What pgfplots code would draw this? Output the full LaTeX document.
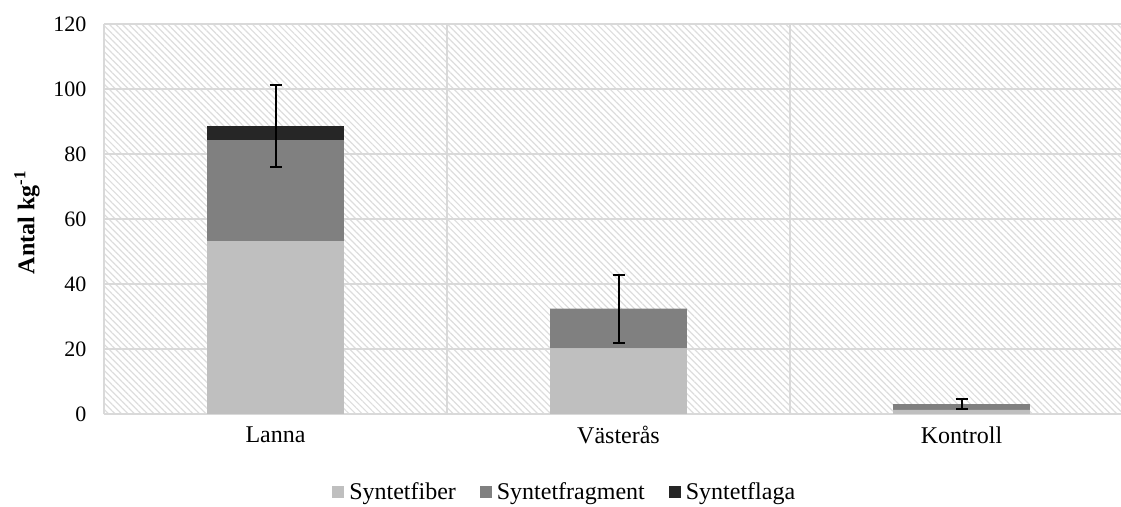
\documentclass[border=0pt]{standalone}
\usepackage{pgfplots}
\pgfplotsset{compat=1.18}
\usepackage{fontspec}
\setmainfont{Liberation Serif}
\usetikzlibrary{patterns.meta}
\definecolor{fiber}{HTML}{BFBFBF}
\definecolor{frag}{HTML}{808080}
\definecolor{flaga}{HTML}{262626}
\definecolor{gridgray}{HTML}{D9D9D9}
\definecolor{hatch}{HTML}{DDDDDD}
\begin{document}
\begin{tikzpicture}
\pgfplotsset{
  common/.style={
    at={(104bp,93bp)}, anchor=south west,
    scale only axis, width=1017bp, height=390bp,
    xmin=-0.5, xmax=2.465, ymin=0, ymax=120,
  }
}
\begin{axis}[
  common,
  ybar stacked, bar width=136.6bp,
  xtick={0,1,2}, xticklabels={Lanna,Västerås,Kontroll},
  ytick={0,20,...,120},
  /pgf/number format/assume math mode=true,
  minor xtick={0.5,1.5},
  xminorgrids, ymajorgrids,
  grid style={draw=gridgray, line width=1.5bp},
  minor grid style={draw=gridgray, line width=1.5bp},
  axis lines*=left,
  axis line style={-, draw=gridgray, line width=1.5bp},
  major tick length=0pt, minor tick length=0pt,
  tick style={draw=none},
  axis background/.style={pattern={Lines[angle=-45,distance=4.6bp,line width=1.2bp]}, pattern color=hatch},
  xticklabel style={font=\fontsize{24bp}{28bp}\selectfont, yshift=-9bp},
  yticklabel style={font=\fontsize{22bp}{26bp}\selectfont, xshift=-14bp},
  every axis y label/.style={at={(axis description cs:-0.0757,0.491)}, rotate=90, anchor=center},
  ylabel={\fontsize{24bp}{28bp}\selectfont\textbf{Antal kg\textsuperscript{-1}}},
  legend columns=3,
  legend style={draw=none, fill=none, at={(0.453,-0.2)}, anchor=center,
    font=\fontsize{24bp}{28bp}\selectfont,
    /tikz/every even column/.append style={column sep=22bp}},
  legend image code/.code={\fill[#1] (0bp,-6bp) rectangle (12bp,6bp);},
]
\addplot[fill=fiber, draw=none] coordinates {(0,53.2) (1,20.2) (2,1.3)};
\addplot[fill=frag, draw=none] coordinates {(0,31.1) (1,12.2) (2,1.7)};
\addplot[fill=flaga, draw=none] coordinates {(0,4.3) (1,0) (2,0)};
\legend{\hspace{3bp}Syntetfiber,\hspace{3bp}Syntetfragment,\hspace{3bp}Syntetflaga}
\end{axis}
\begin{axis}[common, hide axis]
\addplot[draw=none, mark=none,
  error bars/.cd, y dir=both, y explicit,
  error bar style={line width=2bp, black},
  error mark options={line width=2bp, black, mark size=6bp, rotate=90}]
  coordinates {(0,88.7) +- (0,12.6) (1,32.4) +- (0,10.5) (2,3.0) +- (0,1.5)};
\end{axis}
\pgfresetboundingbox
\path[use as bounding box] (0,0) rectangle (1121bp,507bp);
\end{tikzpicture}
\end{document}
